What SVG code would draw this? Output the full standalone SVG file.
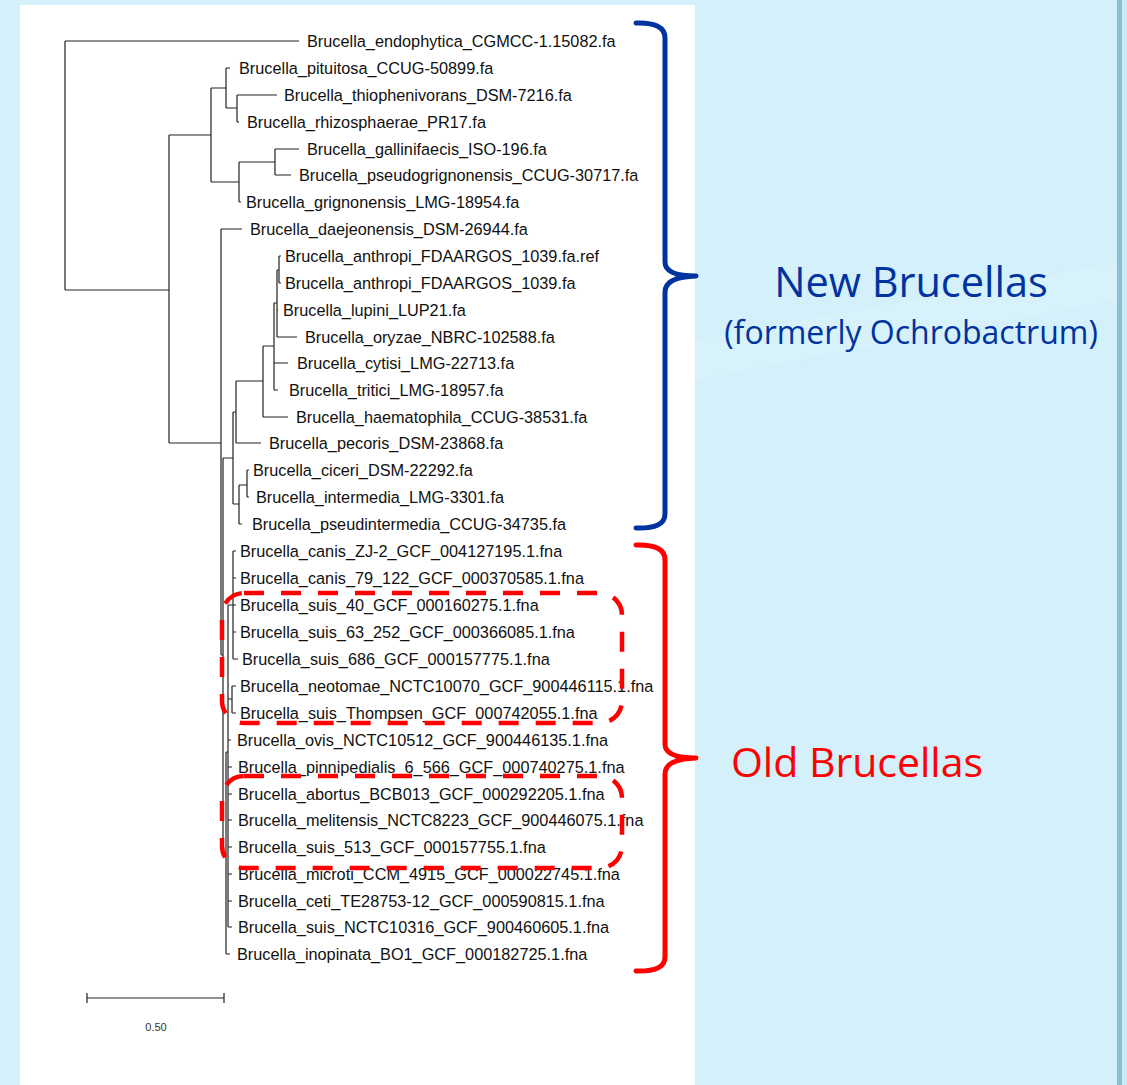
<svg xmlns="http://www.w3.org/2000/svg" width="1127" height="1085" viewBox="0 0 1127 1085">
<style>
.leaf{font-family:"Liberation Sans",Arial,sans-serif;font-size:16.3px;fill:#111}
.br{fill:none;stroke:#222;stroke-width:1.2}
.brace{fill:none;stroke-width:5;stroke-linecap:round;stroke-linejoin:round}
.dash{fill:none;stroke:#ff0000;stroke-width:4.5;stroke-dasharray:20 17}
.lab{font-family:"Open Sans","Noto Sans",sans-serif}
</style>
<rect x="0" y="0" width="1127" height="1085" fill="#d4f0fb"/>
<polygon points="695,340 1117,262 1117,300 695,380" fill="#dcf3fc" opacity="0.5"/>
<rect x="1117" y="0" width="5" height="1085" fill="#8fbdd4"/>
<rect x="1122" y="0" width="5" height="1085" fill="#cdeaf5"/>
<rect x="20" y="5" width="675" height="1080" fill="#ffffff"/>

<g id="connectors">
<path class="br" d="M65,41V290 M65,41H299 M65,290H169
M169,135V443 M169,135H211 M169,443H221
M211,88V182 M211,88H226 M211,182H239
M226,68V108 M226,68H230 M226,108H237
M237,95V122 M237,95H277 M237,122H239
M239,162V202 M239,162H275 M239,202H241
M275,149V175 M275,149H299 M275,175H291
M221,229V655 M221,229H242 M221,655H223
M223,458V853 M223,458H233 M223,853H226
M233,412V504 M233,412H236 M233,504H239
M236,381V443 M236,381H263 M236,443H261
M263,346V417 M263,346H274 M263,417H288
M274,303V390 M274,303H277 M274,363H288 M274,390H278
M277,270V337 M277,270H279 M277,310H278 M277,337H297
M279,256V283 M279,256H281 M279,283H281
M239,485V524 M239,485H247 M239,524H242
M247,470V497 M247,470H249 M247,497H249
M226,752V954 M226,752H228 M226,954H230
M228,605V927 M228,605H233 M228,699H232 M228,740H231 M228,767H232 M228,794H232 M228,820H232 M228,847H232 M228,874H232 M228,901H232 M228,927H232
M233,551V659 M233,551H236 M233,578H236 M233,605H236 M233,632H236 M233,659H238
M232,686V713 M232,686H236 M232,713H236"/>
</g>

<g id="leaves">
<text id="n1" class="leaf" x="307" y="47">Brucella_endophytica_CGMCC-1.15082.fa</text>
<text id="n2" class="leaf" x="239" y="74">Brucella_pituitosa_CCUG-50899.fa</text>
<text id="n3" class="leaf" x="284" y="101">Brucella_thiophenivorans_DSM-7216.fa</text>
<text id="n4" class="leaf" x="247" y="128">Brucella_rhizosphaerae_PR17.fa</text>
<text id="n5" class="leaf" x="307" y="155">Brucella_gallinifaecis_ISO-196.fa</text>
<text id="n6" class="leaf" x="299" y="181">Brucella_pseudogrignonensis_CCUG-30717.fa</text>
<text id="n7" class="leaf" x="246" y="208">Brucella_grignonensis_LMG-18954.fa</text>
<text id="n8" class="leaf" x="250" y="235">Brucella_daejeonensis_DSM-26944.fa</text>
<text id="n9" class="leaf" x="285" y="262">Brucella_anthropi_FDAARGOS_1039.fa.ref</text>
<text id="n10" class="leaf" x="285" y="289">Brucella_anthropi_FDAARGOS_1039.fa</text>
<text id="n11" class="leaf" x="283" y="316">Brucella_lupini_LUP21.fa</text>
<text id="n12" class="leaf" x="305" y="343">Brucella_oryzae_NBRC-102588.fa</text>
<text id="n13" class="leaf" x="297" y="369">Brucella_cytisi_LMG-22713.fa</text>
<text id="n14" class="leaf" x="289" y="396">Brucella_tritici_LMG-18957.fa</text>
<text id="n15" class="leaf" x="296" y="423">Brucella_haematophila_CCUG-38531.fa</text>
<text id="n16" class="leaf" x="269" y="449">Brucella_pecoris_DSM-23868.fa</text>
<text id="n17" class="leaf" x="253" y="476">Brucella_ciceri_DSM-22292.fa</text>
<text id="n18" class="leaf" x="256" y="503">Brucella_intermedia_LMG-3301.fa</text>
<text id="n19" class="leaf" x="252" y="530">Brucella_pseudintermedia_CCUG-34735.fa</text>
<text id="n20" class="leaf" x="240" y="557">Brucella_canis_ZJ-2_GCF_004127195.1.fna</text>
<text id="n21" class="leaf" x="240" y="584">Brucella_canis_79_122_GCF_000370585.1.fna</text>
<text id="n22" class="leaf" x="240" y="611">Brucella_suis_40_GCF_000160275.1.fna</text>
<text id="n23" class="leaf" x="240" y="638">Brucella_suis_63_252_GCF_000366085.1.fna</text>
<text id="n24" class="leaf" x="242" y="665">Brucella_suis_686_GCF_000157775.1.fna</text>
<text id="n25" class="leaf" x="240" y="692">Brucella_neotomae_NCTC10070_GCF_900446115.1.fna</text>
<text id="n26" class="leaf" x="240" y="719">Brucella_suis_Thompsen_GCF_000742055.1.fna</text>
<text id="n27" class="leaf" x="237" y="746">Brucella_ovis_NCTC10512_GCF_900446135.1.fna</text>
<text id="n28" class="leaf" x="238" y="773">Brucella_pinnipedialis_6_566_GCF_000740275.1.fna</text>
<text id="n29" class="leaf" x="238" y="800">Brucella_abortus_BCB013_GCF_000292205.1.fna</text>
<text id="n30" class="leaf" x="238" y="826">Brucella_melitensis_NCTC8223_GCF_900446075.1.fna</text>
<text id="n31" class="leaf" x="238" y="853">Brucella_suis_513_GCF_000157755.1.fna</text>
<text id="n32" class="leaf" x="238" y="880">Brucella_microti_CCM_4915_GCF_000022745.1.fna</text>
<text id="n33" class="leaf" x="238" y="907">Brucella_ceti_TE28753-12_GCF_000590815.1.fna</text>
<text id="n34" class="leaf" x="238" y="933">Brucella_suis_NCTC10316_GCF_900460605.1.fna</text>
<text id="n35" class="leaf" x="237" y="960">Brucella_inopinata_BO1_GCF_000182725.1.fna</text>
</g>

<g id="scale">
<path d="M87,998H224 M87,993V1003 M224,993V1003" fill="none" stroke="#222" stroke-width="1.2"/>
<text x="156" y="1031" text-anchor="middle" font-family="Liberation Sans,Arial,sans-serif" font-size="11" fill="#333">0.50</text>
</g>

<g id="groups">
<rect class="dash" x="222" y="593" width="400" height="130" rx="22" ry="22"/>
<rect class="dash" x="222" y="776" width="400" height="92" rx="22" ry="22"/>
</g>

<g id="new-brucellas">
<path class="brace" stroke="#0033a0" d="M636,23 Q665,22 665,38 L665,262 Q665,276 696,276 Q665,277 665,292 L665,514 Q665,529 636,528"/>
<text class="lab" x="911" y="297" text-anchor="middle" font-size="41.5" fill="#0033a0">New Brucellas</text>
<text class="lab" x="911" y="344" text-anchor="middle" font-size="32" fill="#0033a0">(formerly Ochrobactrum)</text>
</g>

<g id="old-brucellas">
<path class="brace" stroke="#ff0000" d="M636,545 Q665,544 665,560 L665,744 Q665,758 696,758 Q665,759 665,774 L665,957 Q665,972 636,971"/>
<text class="lab" x="857" y="777" text-anchor="middle" font-size="41" fill="#ff0000">Old Brucellas</text>
</g>
</svg>
